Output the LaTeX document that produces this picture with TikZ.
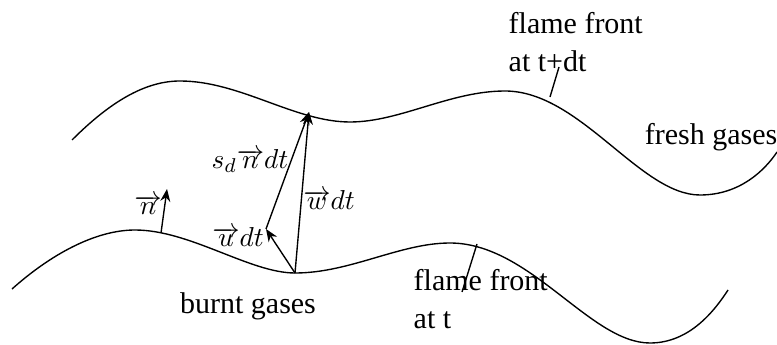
\documentclass[tikz,border=0pt]{standalone}
\usepackage{fontspec}
\setmainfont{Liberation Serif}
\usetikzlibrary{arrows.meta}
\begin{document}
\begin{tikzpicture}[x=0.4pt,y=-0.4pt,line width=0.55pt,
    vec/.style={-{Stealth[length=5pt,width=4pt]}},
    lbl/.style={font=\fontsize{12}{15.5}\selectfont,inner sep=0pt},
    mlbl/.style={font=\fontsize{11}{13}\selectfont,inner sep=0pt}]
  \useasboundingbox (0,0) rectangle (777,345);
  % flame fronts
  \draw (72,140) .. controls (110,102) and (145,81) .. (180,81)
    .. controls (240,81) and (295,122) .. (350,122)
    .. controls (400,122) and (450,91) .. (505,91)
    .. controls (580,91) and (640,195) .. (700,195)
    .. controls (740,195) and (765,170) .. (777,152);
  \draw (12,289) .. controls (50,255) and (95,230) .. (135,230)
    .. controls (190,230) and (250,273) .. (295,273)
    .. controls (350,273) and (400,243) .. (450,243)
    .. controls (530,243) and (590,343) .. (650,343)
    .. controls (690,343) and (715,310) .. (728,290);
  % points
  \coordinate (P) at (295,273);
  \coordinate (Q) at (309,112);
  \coordinate (U) at (266,229);
  \coordinate (N0) at (161,233);
  \coordinate (N1) at (167,189);
  \draw[vec] (N0) -- (N1);
  \draw[vec] (P) -- (U);
  \draw[vec] (U) -- (Q);
  \draw[vec] (P) -- (Q);
  % labels
  \node[mlbl] (n) at (148,205) {$\overrightarrow{n}$};
  \node[mlbl] (sn) at (250,161) {$s_d\overrightarrow{n}dt$};
  \node[mlbl] (w) at (329,200) {$\overrightarrow{w}dt$};
  \node[mlbl] (u) at (238,237) {$\overrightarrow{u}dt$};
  \node[lbl] (burnt) at (248,306) {burnt gases};
  \node[lbl] (fresh) at (711,137) {fresh gases};
  \node[lbl,align=left,anchor=west] (ft) at (413,299) {flame front\\at t};
  \node[lbl,align=left,anchor=west] (ftdt) at (508,42) {flame front\\at t+dt};
  \coordinate (ft0) at (477,244);
  \coordinate (ft1) at (462,292);
  \coordinate (ftdt0) at (550,97);
  \coordinate (ftdt1) at (559,67);
  \draw (ft0) -- (ft1);
  \draw (ftdt0) -- (ftdt1);
\end{tikzpicture}
\end{document}
